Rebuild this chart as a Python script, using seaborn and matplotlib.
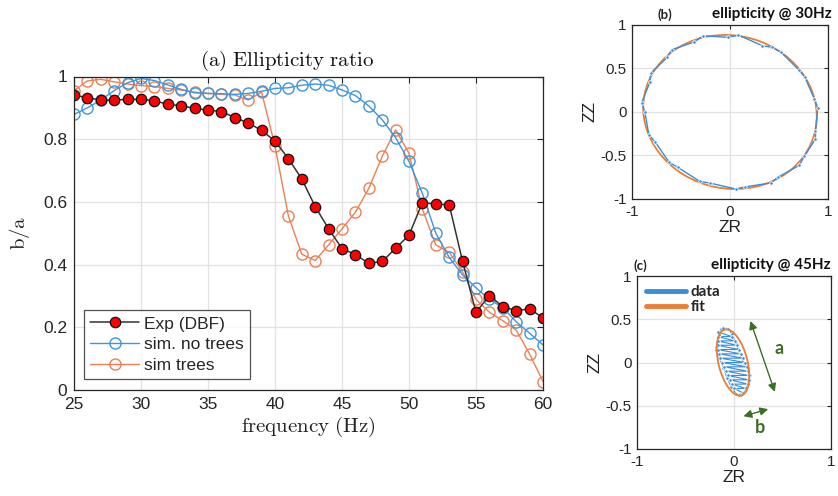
import numpy as np
import pandas as pd
import matplotlib
matplotlib.use("Agg")
import matplotlib.pyplot as plt
from matplotlib.patches import Ellipse, FancyArrowPatch
from matplotlib.lines import Line2D
import seaborn as sns

sns.set_style("white")
plt.rcParams["font.family"] = ["Liberation Sans", "DejaVu Sans"]
plt.rcParams["mathtext.fontset"] = "cm"

# ---------------- data: panel (a) ----------------
freq = list(range(25, 61))
exp_dbf = [0.941, 0.932, 0.925, 0.925, 0.927, 0.927, 0.923, 0.911, 0.907, 0.898,
           0.893, 0.888, 0.869, 0.852, 0.828, 0.794, 0.738, 0.673, 0.585, 0.514,
           0.451, 0.432, 0.404, 0.410, 0.452, 0.494, 0.598, 0.593, 0.591, 0.410,
           0.248, 0.301, 0.266, 0.253, 0.259, 0.230]
sim_no_trees = [0.879, 0.900, 0.925, 0.955, 0.980, 0.994, 0.987, 0.973, 0.959, 0.948,
                0.946, 0.945, 0.943, 0.946, 0.953, 0.962, 0.964, 0.972, 0.976, 0.972,
                0.957, 0.939, 0.906, 0.862, 0.805, 0.729, 0.627, 0.500, 0.423, 0.367,
                0.326, 0.289, 0.263, 0.218, 0.181, 0.144]
sim_trees = [0.955, 0.986, 0.991, 0.983, 0.976, 0.971, 0.968, 0.962, 0.957, 0.950,
             0.946, 0.943, 0.941, 0.925, 0.950, 0.778, 0.555, 0.433, 0.413, 0.463,
             0.514, 0.567, 0.643, 0.745, 0.830, 0.755, 0.577, 0.463, 0.439, 0.377,
             0.289, 0.248, 0.221, 0.191, 0.115, 0.027]
series_labels = ["Exp (DBF)", "sim. no trees", "sim trees"]
x_ticks_a = [25, 30, 35, 40, 45, 50, 55, 60]
y_ticks_a = [0, 0.2, 0.4, 0.6, 0.8, 1]

# ---------------- data: panel (b) 30 Hz ----------------
b_zr = [-0.276, -0.017, 0.084, 0.330, 0.428, 0.522, 0.707, 0.764, 0.862, 0.896,
        0.872, 0.872, 0.758, 0.707, 0.488, 0.414, 0.148, 0.061, -0.209, -0.310,
        -0.532, -0.620, -0.761, -0.828, -0.869, -0.902, -0.818, -0.808, -0.640,
        -0.596, -0.364, -0.276]
b_zz = [0.877, 0.858, 0.885, 0.762, 0.743, 0.686, 0.479, 0.398, 0.149, 0.046,
        -0.215, -0.310, -0.510, -0.613, -0.751, -0.816, -0.862, -0.885, -0.816, -0.797,
        -0.636, -0.579, -0.349, -0.261, 0.000, 0.103, 0.341, 0.448, 0.628,
        0.716, 0.805, 0.877]
b_fit = {"center": (0.0, 0.0), "a": 0.91, "b": 0.86, "angle": -45.0}

# ---------------- data: panel (c) 45 Hz ----------------
c_zr = [-0.11, -0.06, -0.02, 0.02, 0.06, 0.10, 0.14, 0.16, 0.14, 0.11, 0.07, 0.02,
        -0.03, -0.07, -0.11, -0.15, -0.19, -0.17, -0.15, -0.13, -0.11,
        -0.16, -0.02, -0.17, 0.01, -0.17, 0.03, -0.17, 0.05, -0.17, 0.07, -0.15, 0.09,
        -0.14, 0.11, -0.12, 0.13, -0.10, 0.14, -0.08, 0.15, -0.06, 0.15, -0.04, 0.14,
        -0.02, 0.12, 0.00, 0.09, 0.05]
c_zz = [0.40, 0.39, 0.33, 0.22, 0.10, 0.00, -0.08, -0.15, -0.25, -0.33, -0.38, -0.36,
        -0.28, -0.18, -0.06, 0.05, 0.14, 0.25, 0.32, 0.39, 0.40,
        0.35, 0.30, 0.30, 0.25, 0.25, 0.20, 0.20, 0.15, 0.15, 0.10, 0.10, 0.05,
        0.05, 0.00, 0.00, -0.05, -0.05, -0.10, -0.10, -0.15, -0.15, -0.20, -0.20, -0.25,
        -0.25, -0.30, -0.30, -0.35, -0.37]
c_fit = {"center": (-0.01, 0.0), "a": 0.39, "b": 0.15, "angle": 102.0}
arrow_a = [(0.16, 0.51), (0.43, -0.37)]
arrow_b = [(0.07, -0.63), (0.38, -0.53)]
lim_rc = [-1, 1]
x_ticks_rc = [-1, 0, 1]
y_ticks_rc = [-1, -0.5, 0, 0.5, 1]

# ---------------- colours ----------------
c_exp_line = "#333333"
c_red = "#ff0000"
c_blue = "#3f95dc"
c_orange = "#ee7f55"
c_fit_col = "#ed7d31"
c_data_col = "#3a8dd8"
c_green = "#3b6e22"
grid_col = "#e2e2e2"
frame_col = "#262626"

fig = plt.figure(figsize=(8.38, 4.96), dpi=100)

# ================= panel (a) =================
ax = fig.add_axes([74 / 838, 1 - 390 / 496, 469 / 838, 313.5 / 496])
df = pd.DataFrame({"freq": freq * 3,
                   "val": exp_dbf + sim_no_trees + sim_trees,
                   "series": [series_labels[0]] * len(freq) + [series_labels[1]] * len(freq)
                             + [series_labels[2]] * len(freq)})
styles = {
    series_labels[0]: dict(color=c_exp_line, marker="o", markersize=7.5, markerfacecolor=c_red,
                           markeredgecolor="#111111", markeredgewidth=0.9, linewidth=1.1),
    series_labels[1]: dict(color=c_blue, marker="o", markersize=8, markerfacecolor="none",
                           markeredgecolor=c_blue, markeredgewidth=1.0, linewidth=1.0),
    series_labels[2]: dict(color=c_orange, marker="o", markersize=8, markerfacecolor="none",
                           markeredgecolor=c_orange, markeredgewidth=1.0, linewidth=1.0),
}
for lab in [series_labels[2], series_labels[1], series_labels[0]]:
    sub = df[df["series"] == lab]
    sns.lineplot(data=sub, x="freq", y="val", ax=ax, sort=False, estimator=None,
                 label=lab, **styles[lab])
ax.set_xlim(25, 60)
ax.set_ylim(0, 1)
ax.set_xticks(x_ticks_a)
ax.set_yticks(y_ticks_a)
ax.set_yticklabels(["0", "0.2", "0.4", "0.6", "0.8", "1"])
ax.grid(True, color=grid_col, linewidth=0.9)
ax.set_axisbelow(True)
ax.tick_params(direction="in", length=4, width=0.8, top=True, right=True,
               labelsize=12.5, colors=frame_col, pad=5)
for s in ax.spines.values():
    s.set_color(frame_col)
    s.set_linewidth(0.9)
ax.set_xlabel(r"$\mathrm{frequency\ (Hz)}$", fontsize=15, labelpad=2, color="#222222")
ax.set_ylabel(r"$\mathrm{b/a}$", fontsize=15, labelpad=8, color="#222222")
ax.text(0.455, 1.012, r"$\mathrm{(a)\ Ellipticity\ ratio}$", transform=ax.transAxes,
        ha="center", va="bottom", fontsize=15, color="#111111")
handles = [Line2D([], [], **styles[l]) for l in series_labels]
leg = ax.legend(handles, series_labels, loc="lower left", bbox_to_anchor=(0.022, 0.035),
                fontsize=12.5, frameon=True, fancybox=False, handlelength=2.8,
                handletextpad=0.3, borderpad=0.35, labelspacing=0.32, borderaxespad=0)
leg.get_frame().set_edgecolor(frame_col)
leg.get_frame().set_linewidth(0.9)


def style_small(axs):
    axs.set_xlim(*lim_rc)
    axs.set_ylim(*lim_rc)
    axs.set_xticks(x_ticks_rc)
    axs.set_yticks(y_ticks_rc)
    axs.set_xticklabels(["-1", "0", "1"])
    axs.set_yticklabels(["-1", "-0.5", "0", "0.5", "1"])
    axs.grid(True, color=grid_col, linewidth=0.9)
    axs.set_axisbelow(True)
    axs.tick_params(direction="in", length=3, width=0.8, top=True, right=True,
                    labelsize=11, colors=frame_col, pad=4)
    for s in axs.spines.values():
        s.set_color(frame_col)
        s.set_linewidth(0.9)
    axs.set_xlabel("ZR", fontsize=12.5, labelpad=1, color="#222222")
    axs.set_ylabel("ZZ", fontsize=12.5, labelpad=2, color="#222222")


# ================= panel (b) =================
axb = fig.add_axes([632 / 838, 1 - 199 / 496, 196 / 838, 174 / 496])
dfb = pd.DataFrame({"zr": b_zr, "zz": b_zz})
eb = Ellipse(b_fit["center"], 2 * b_fit["a"], 2 * b_fit["b"], angle=b_fit["angle"],
             fill=False, edgecolor=c_fit_col, linewidth=1.3, zorder=3)
axb.add_patch(eb)
sns.lineplot(data=dfb, x="zr", y="zz", ax=axb, sort=False, estimator=None,
             color=c_data_col, linewidth=1.0, marker="o", markersize=2.5,
             markeredgewidth=0.6, zorder=4)
style_small(axb)
axb.text(0.13, 1.025, "(b)", transform=axb.transAxes, ha="left", va="bottom",
         fontsize=9.5, fontweight="bold", family=["Lato", "DejaVu Sans"], color="#222222")
axb.text(1.02, 1.025, "ellipticity @ 30Hz", transform=axb.transAxes, ha="right",
         va="bottom", fontsize=11, fontweight="bold", family=["Lato", "DejaVu Sans"],
         color="#111111")

# ================= panel (c) =================
axc = fig.add_axes([637 / 838, 1 - 449 / 496, 194 / 838, 173 / 496])
dfc = pd.DataFrame({"zr": c_zr, "zz": c_zz})
sns.lineplot(data=dfc, x="zr", y="zz", ax=axc, sort=False, estimator=None,
             color=c_data_col, linewidth=0.8, marker="o", markersize=2.5,
             markeredgewidth=0.6, zorder=3)
ec = Ellipse(c_fit["center"], 2 * c_fit["a"], 2 * c_fit["b"], angle=c_fit["angle"],
             fill=False, edgecolor=c_fit_col, linewidth=1.3, zorder=4)
axc.add_patch(ec)
style_small(axc)
for (p0, p1) in [arrow_a, arrow_b]:
    axc.add_patch(FancyArrowPatch(p0, p1, arrowstyle="<|-|>", mutation_scale=12,
                                  color=c_green, linewidth=1.0, zorder=5))
axc.text(0.46, 0.16, "a", fontsize=13, fontweight="bold", color=c_green,
         family=["Lato", "DejaVu Sans"], ha="center", va="center")
axc.text(0.27, -0.75, "b", fontsize=13, fontweight="bold", color=c_green,
         family=["Lato", "DejaVu Sans"], ha="center", va="center")
lh = [Line2D([], [], color=c_data_col, linewidth=3.5), Line2D([], [], color=c_fit_col, linewidth=3.5)]
axc.legend(lh, ["data", "fit"], loc="upper left", frameon=False,
           prop={"family": ["Lato", "DejaVu Sans"], "weight": "bold", "size": 11},
           handlelength=2.6, handletextpad=0.3, labelspacing=0.05, borderaxespad=0.2)
axc.text(-0.02, 1.025, "(c)", transform=axc.transAxes, ha="left", va="bottom",
         fontsize=9.5, fontweight="bold", family=["Lato", "DejaVu Sans"], color="#222222")
axc.text(1.0, 1.025, "ellipticity @ 45Hz", transform=axc.transAxes, ha="right",
         va="bottom", fontsize=11, fontweight="bold", family=["Lato", "DejaVu Sans"],
         color="#111111")

fig.savefig("out.png", dpi=100)
